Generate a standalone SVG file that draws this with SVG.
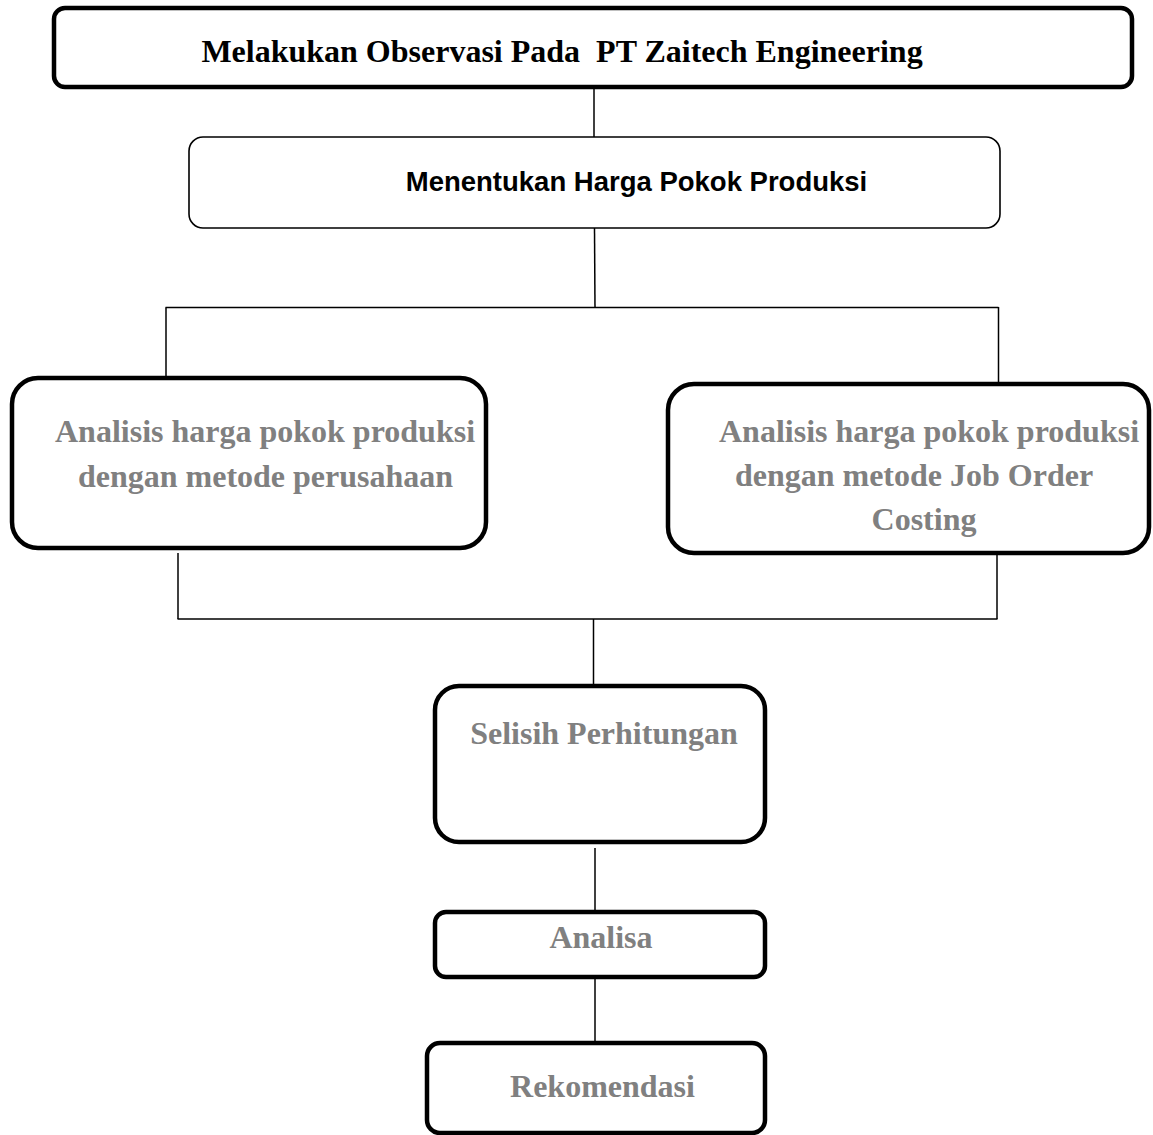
<svg xmlns="http://www.w3.org/2000/svg" width="1153" height="1135" viewBox="0 0 1153 1135">
<style>
.bg{fill:#fff}
.thick{fill:#fff;stroke:#000;stroke-width:4.5}
.thin{fill:#fff;stroke:#000;stroke-width:1.6}
.conn line{stroke:#000;stroke-width:1.5}
.serif{font-family:"Liberation Serif","Times New Roman",serif;font-weight:bold;font-size:32px;text-anchor:middle;white-space:pre}
.gray{fill:#808080}
.black{fill:#000}
.sans{font-family:"Liberation Sans",Arial,sans-serif;font-weight:bold;font-size:27.5px;text-anchor:middle;fill:#000}
</style>
<rect class="bg" x="0" y="0" width="1153" height="1135"/>
<g id="connectors" class="conn">
<line x1="594" y1="88" x2="594" y2="137"/>
<line x1="594.5" y1="228" x2="595" y2="307.5"/>
<line x1="165.5" y1="307.5" x2="998.5" y2="307.5"/>
<line x1="166" y1="307.5" x2="166" y2="377"/>
<line x1="998.5" y1="307" x2="998.5" y2="383"/>
<line x1="178" y1="553" x2="178" y2="619"/>
<line x1="997" y1="555" x2="997" y2="619"/>
<line x1="177.5" y1="619" x2="997.5" y2="619"/>
<line x1="593.5" y1="619" x2="593.5" y2="685"/>
<line x1="595" y1="848" x2="595" y2="912"/>
<line x1="595" y1="978" x2="595" y2="1043"/>
</g>
<g id="node-observasi">
<rect class="thick" x="54" y="8" width="1078" height="79" rx="11"/>
<text class="serif black" x="562" y="62" xml:space="preserve">Melakukan Observasi Pada  PT Zaitech Engineering</text>
</g>
<g id="node-menentukan">
<rect class="thin" x="189" y="137" width="811" height="91" rx="14"/>
<text class="sans" x="636.5" y="191">Menentukan Harga Pokok Produksi</text>
</g>
<g id="node-perusahaan">
<rect class="thick" x="12" y="378" width="474" height="170" rx="26"/>
<text class="serif gray" x="265" y="442">Analisis harga pokok produksi</text>
<text class="serif gray" x="265.5" y="487">dengan metode perusahaan</text>
</g>
<g id="node-joborder">
<rect class="thick" x="668" y="384" width="481" height="169" rx="26"/>
<text class="serif gray" x="929" y="442">Analisis harga pokok produksi</text>
<text class="serif gray" x="914" y="486">dengan metode Job Order</text>
<text class="serif gray" x="924" y="530">Costing</text>
</g>
<g id="node-selisih">
<rect class="thick" x="435" y="686" width="330" height="156" rx="24"/>
<text class="serif gray" x="604" y="744">Selisih Perhitungan</text>
</g>
<g id="node-analisa">
<rect class="thick" x="435" y="912" width="330" height="65" rx="11"/>
<text class="serif gray" x="601" y="948">Analisa</text>
</g>
<g id="node-rekomendasi">
<rect class="thick" x="427" y="1043" width="338" height="90" rx="13"/>
<text class="serif gray" x="602.5" y="1097">Rekomendasi</text>
</g>
</svg>
